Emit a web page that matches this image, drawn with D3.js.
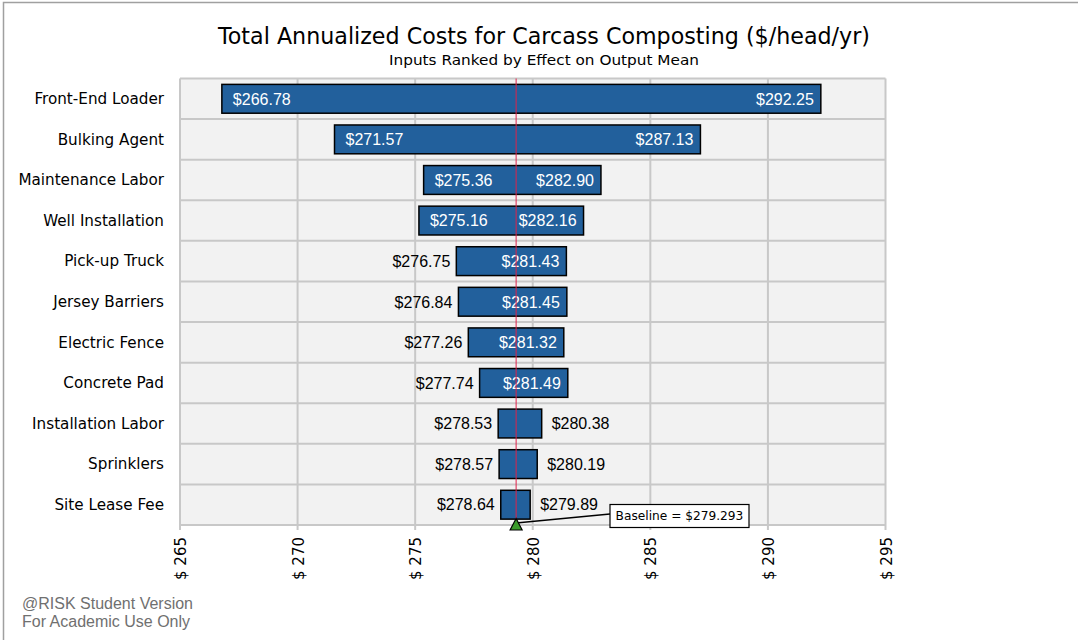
<!DOCTYPE html>
<html><head><meta charset="utf-8">
<script src="https://cdn.jsdelivr.net/npm/d3@7"></script>
<style>body{margin:0;background:#fff}svg{display:block}</style>
</head><body>
<svg id="c" width="1078" height="640"></svg>
<script>
const categories = ["Front-End Loader","Bulking Agent","Maintenance Labor","Well Installation","Pick-up Truck","Jersey Barriers","Electric Fence","Concrete Pad","Installation Labor","Sprinklers","Site Lease Fee"];
const lowValues  = [266.78,271.57,275.36,275.16,276.75,276.84,277.26,277.74,278.53,278.57,278.64];
const highValues = [292.25,287.13,282.90,282.16,281.43,281.45,281.32,281.49,280.38,280.19,279.89];
const baseline = 279.293;
const tickValues = [265,270,275,280,285,290,295];
const title = "Total Annualized Costs for Carcass Composting ($/head/yr)";
const subtitle = "Inputs Ranked by Effect on Output Mean";

const svg = d3.select("#c");
const L = 180, R = 885.5, T = 78.5, B = 525;
const x = d3.scaleLinear().domain([265,295]).range([L,R]);
const y = d3.scaleBand().domain(categories).range([T,B]).paddingInner(0.29).paddingOuter(0.145);
const yRow = d3.scaleBand().domain(categories).range([T,B]);
const tahoma = "Tahoma, 'DejaVu Sans', Verdana, sans-serif";
const arial = "Arial, 'Liberation Sans', sans-serif";

// outer border
svg.append("rect").attr("x",3.5).attr("y",2.5).attr("width",1085).attr("height",650)
  .attr("fill","none").attr("stroke","#a0a0a0").attr("stroke-width",1.5);

// title
svg.append("text").attr("x",544).attr("y",44).attr("text-anchor","middle")
  .attr("font-family",tahoma).attr("font-size",22.5).attr("fill","#000").text(title)
  .attr("textLength",652).attr("lengthAdjust","spacingAndGlyphs");
svg.append("text").attr("x",544).attr("y",65).attr("text-anchor","middle")
  .attr("font-family",tahoma).attr("font-size",14).attr("fill","#000").text(subtitle)
  .attr("textLength",310).attr("lengthAdjust","spacingAndGlyphs");

// plot background
svg.append("rect").attr("x",L).attr("y",T).attr("width",R-L).attr("height",B-T).attr("fill","#f2f2f2");
// grid
const g = svg.append("g");
g.selectAll(".vg").data(tickValues).join("line")
  .attr("x1",d=>x(d)).attr("x2",d=>x(d)).attr("y1",T).attr("y2",B+5)
  .attr("stroke","#c8c8c8").attr("stroke-width",2);
const rowEdges = categories.map(c=>yRow(c)).concat([B]);
g.selectAll(".hg").data(rowEdges).join("line")
  .attr("x1",L).attr("x2",R).attr("y1",d=>d).attr("y2",d=>d)
  .attr("stroke","#c8c8c8").attr("stroke-width",2);

// category labels
svg.append("g").selectAll("text").data(categories).join("text")
  .attr("x",164).attr("y",d=>yRow(d)+yRow.bandwidth()/2).attr("dy","0.35em")
  .attr("text-anchor","end").attr("font-family",tahoma).attr("font-size",15.2).attr("fill","#000")
  .text(d=>d);

// bars
const data = categories.map((c,i)=>({c,lo:lowValues[i],hi:highValues[i]}));
svg.append("g").selectAll("rect").data(data).join("rect")
  .attr("x",d=>x(d.lo)).attr("width",d=>x(d.hi)-x(d.lo))
  .attr("y",d=>y(d.c)).attr("height",y.bandwidth())
  .attr("fill","#22609c").attr("stroke","#000").attr("stroke-width",1.5);

// labels
const fmt = v=>"$"+v.toFixed(2);
const lg = svg.append("g").attr("font-family",arial).attr("font-size",16);
const meas = lg.append("text").attr("opacity",0);
function tw(s){meas.text(s);return meas.node().getComputedTextLength();}
data.forEach(d=>{
  const x0=x(d.lo), x1=x(d.hi), w=x1-x0, cy=yRow(d.c)+yRow.bandwidth()/2;
  const sl=fmt(d.lo), sh=fmt(d.hi), wl=tw(sl), wh=tw(sh);
  let lowIn=false, hiIn=false;
  if (w >= wl+wh+36) {lowIn=true;hiIn=true;}
  else if (w >= wh+14) {hiIn=true;}
  lg.append("text").attr("y",cy).attr("dy","0.36em")
    .attr("x",lowIn? x0+11 : x0-6).attr("text-anchor",lowIn?"start":"end")
    .attr("fill",lowIn?"#fff":"#000").text(sl);
  lg.append("text").attr("y",cy).attr("dy","0.36em")
    .attr("x",hiIn? x1-7 : x1+10).attr("text-anchor",hiIn?"end":"start")
    .attr("fill",hiIn?"#fff":"#000").text(sh);
});
meas.remove();

// baseline line
svg.append("line").attr("x1",x(baseline)).attr("x2",x(baseline)).attr("y1",T).attr("y2",B)
  .attr("stroke","#e0224a").attr("stroke-width",1);

// axis ticks labels
svg.append("g").selectAll("text").data(tickValues).join("text")
  .attr("transform",d=>`translate(${x(d)+6},537) rotate(-90)`)
  .attr("text-anchor","end").attr("font-family",tahoma).attr("font-size",15).attr("fill","#000")
  .text(d=>"$ "+d);

// baseline marker & callout
const bx = x(baseline);
svg.append("line").attr("x1",bx).attr("y1",523).attr("x2",610).attr("y2",514)
  .attr("stroke","#000").attr("stroke-width",1.5);
svg.append("path").attr("d",`M${bx},518.5 L${bx-6},530 L${bx+6},530 Z`)
  .attr("fill","#3a9a2a").attr("stroke","#000").attr("stroke-width",1.2);
svg.append("rect").attr("x",610).attr("y",504.5).attr("width",139).attr("height",23)
  .attr("fill","#fff").attr("stroke","#000").attr("stroke-width",1.2);
svg.append("text").attr("x",679.5).attr("y",516).attr("dy","0.35em").attr("text-anchor","middle")
  .attr("font-family",tahoma).attr("font-size",12.2).attr("fill","#000").text("Baseline = $"+baseline);

// watermark
svg.append("text").attr("x",22).attr("y",609).attr("font-family",arial).attr("font-size",16).attr("fill","#707070").text("@RISK Student Version");
svg.append("text").attr("x",22).attr("y",626.5).attr("font-family",arial).attr("font-size",16).attr("fill","#707070").text("For Academic Use Only");
</script>
</body></html>
